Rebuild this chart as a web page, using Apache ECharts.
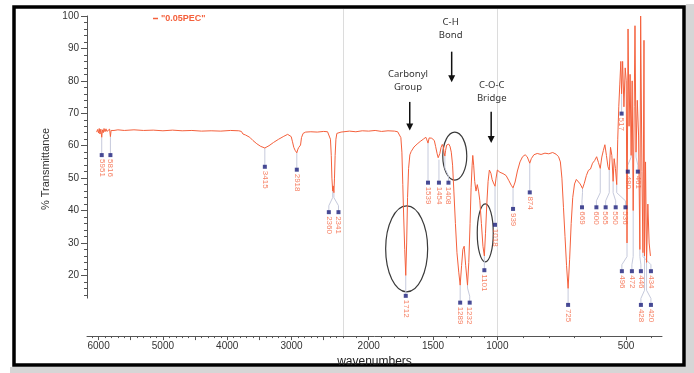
<!DOCTYPE html>
<html>
<head>
<meta charset="utf-8">
<title>FTIR 0.05PEC</title>
<script src="https://cdn.jsdelivr.net/npm/echarts@6/dist/echarts.min.js"></script>
<style>
  html, body { margin: 0; padding: 0; background: #fff; }
  #main { width: 694px; height: 373px; }
</style>
</head>
<body>
<div id="main"></div>
<script>
// spectrum [wavenumber cm-1, % transmittance], split at the axis scale breaks
var specHigh = [[6030,64.2],[6015,65.0],[6000,63.9],[5990,65.3],[5978,63.6],[5965,65.1],[5951,62.6],[5940,64.9],[5928,64.0],[5915,65.3],[5900,64.3],[5885,65.2],[5870,64.4],[5855,65.0],[5840,64.5],[5828,65.1],[5816,62.8],[5805,64.7],[5790,65.1],[5760,64.7],[5700,64.9],[5600,64.7],[5450,64.9],[5300,64.7],[5150,64.8],[5000,64.6],[4850,64.8],[4700,64.6],[4550,64.7],[4400,64.5],[4250,64.6],[4100,64.5],[3950,64.7],[3820,64.6],[3780,64.4],[3755,63.6],[3735,64.1],[3715,63.3],[3690,63.4],[3650,62.6],[3600,61.6],[3540,60.6],[3480,59.8],[3415,59.3],[3350,60.0],[3280,61.0],[3200,62.0],[3120,62.9],[3060,63.5],[3030,63.6],[3005,62.8],[2985,61.2],[2965,59.5],[2945,58.6],[2930,58.9],[2918,57.8],[2905,58.7],[2890,59.4],[2875,59.0],[2860,60.2],[2845,62.5],[2820,63.8],[2780,64.2],[2700,64.3],[2600,64.2],[2500,64.4],[2440,64.3],[2410,63.9],[2395,62.0],[2382,57.0],[2372,50.0],[2360,46.0],[2352,47.6],[2341,45.5],[2332,50.0],[2322,57.0],[2310,62.0],[2295,63.8],[2270,64.3],[2230,64.2],[2200,64.4]];
var specMid = [[2150,64.5],[2100,64.3],[2050,64.6],[2000,64.5],[1950,64.7],[1900,64.4],[1850,64.6],[1800,64.5],[1775,64.3],[1760,63.8],[1750,62.5],[1742,58],[1735,48],[1728,38],[1720,28],[1712,20.0],[1705,30],[1698,44],[1690,53],[1680,57.2],[1670,58.2],[1660,58.6],[1648,59.6],[1636,59.2],[1624,60.5],[1612,60.2],[1600,61.3],[1588,61.0],[1576,62.0],[1566,61.6],[1556,62.6],[1548,61.8],[1539,60.8],[1530,62.4],[1520,62.9],[1510,62.3],[1500,62.8],[1490,61.6],[1480,59.8],[1468,57.5],[1460,56.3],[1454,55.7],[1447,57.6],[1438,59.4],[1428,60.4],[1420,59.6],[1414,57.8],[1408,56.8],[1402,58.6],[1394,60.2],[1386,59.7],[1378,60.5],[1368,59.8],[1358,58.0],[1348,54],[1338,46],[1326,36],[1314,27],[1300,21],[1289,17.0],[1278,23],[1268,28],[1258,29],[1246,23],[1232,17.0],[1222,24],[1212,36],[1204,47],[1196,54],[1191,57.0],[1184,54],[1176,49],[1166,46],[1156,48],[1146,46],[1136,43],[1124,36],[1112,29],[1101,26.0],[1092,33],[1082,42],[1072,49],[1062,52.5],[1050,51.5],[1040,49.5],[1030,48.5],[1018,47.5],[1010,50],[1000,52.5]];
var specLow = [[990,51.8],[978,51.4],[966,50.8],[955,49.2],[946,47.8],[939,47.0],[931,48.8],[922,52.2],[912,55.0],[902,56.6],[892,57.2],[884,56.6],[879,55.6],[874,54.6],[868,56.0],[858,57.2],[845,57.6],[830,57.3],[815,57.7],[800,57.5],[785,57.9],[772,57.4],[762,56.6],[755,55.0],[749,50],[743,41],[737,32],[731,23],[725,16.0],[719,25],[713,36],[707,44],[700,48.2],[693,49.6],[686,49.0],[678,48.2],[669,46.8],[662,48.4],[654,50.8],[646,52.4],[638,52.8],[630,54.6],[622,55.4],[614,56.6],[607,54.8],[600,53.0],[594,56.5],[588,58.5],[582,60.3],[576,57],[570,53.5],[565,52.5],[560,59.5],[555,57],[550,49.0],[546,56],[541,53],[536,48.0],[532,62],[528,72],[524,79],[520,86],[517,76],[513,86],[508,72],[503,84],[499,80],[496,30],[492,96],[488,66],[484,82],[480,57],[476,80],[472,40],[468,72],[465,97],[461,58],[456,74],[451,63],[446,28],[443,100],[438,52],[434,27],[430,92.5],[428,26],[424,55],[420,24],[415,42],[410,30],[405,26]];

// labelled peaks: where the peak is, where its marker sits, marker level
var peakWn      = [5951,5816,3415,2918,2360,2341,1712,1539,1454,1408,1289,1232,1101,1018,939,874,725,669,600,565,550,536,517,480,461,496,472,446,434,428,420];
var peakLabelWn = [5951,5816,3415,2918,2420,2270,1712,1539,1454,1380,1289,1215,1101,1018,939,874,725,671,615,579,540,502,517,493,454,516,477,442,403,442,403];
var peakLabelT  = [57.1,57.1,53.5,52.6,39.5,39.5,13.7,48.6,48.6,48.6,11.6,11.6,21.6,35.6,40.5,45.6,10.9,41.0,41.0,41.0,41.0,41.0,69.9,52.0,52.0,21.3,21.3,21.3,21.3,10.9,10.9];

// axis ticks
var xLabels = [6000,5000,4000,3000,2000,1500,1000,500];
var xMajor = [6000,5500,5000,4500,4000,3500,3000,2500,2000,1500,1000,500];
var xMinor = [6100,5900,5800,5700,5600,5400,5300,5200,5100,4900,4800,4700,4600,4400,4300,4200,4100,3900,3800,3700,3600,3400,3300,3200,3100,2900,2800,2700,2600,2400,2300,2200,2100,1900,1800,1700,1600,1400,1300,1200,1100,900,800,700,600,400];
var yLabels = [20,30,40,50,60,70,80,90,100];
var yMinor = [14,16,18,22,24,26,28,32,34,36,38,42,44,46,48,52,54,56,58,62,64,66,68,72,74,76,78,82,84,86,88,92,94,96,98];

// annotations
var noteText = ['Carbonyl\nGroup', 'C-H\nBond', 'C-O-C\nBridge'];
var noteTextAt = [[1695,80.1],[1363,95.9],[1044,76.6]];
var noteArrowFrom = [[1681,73.5],[1355,89.0],[1048,70.5]];
var noteArrowTo = [[1681,64.7],[1355,79.6],[1048,60.8]];
var circleAt = [[1705,28.2],[1331,56.8],[1094,33.1]];
var circleR = [[21,43],[12,24],[8,29]];

// axis has 3 scales: 6180-2200 x1, 2200-1000 x2, 1000-360 x4
function toT(w) {
	if (w >= 2200) return 6180 - w;
	if (w >= 1000) return 3980 + 2 * (2200 - w);
	return 6380 + 4 * (1000 - w);
}
function fromT(t) {
	if (t <= 3980) return 6180 - t;
	if (t <= 6380) return 2200 - (t - 3980) / 2;
	return 1000 - (t - 6380) / 4;
}

var spectrum = specHigh.concat(specMid, specLow);
var lineData = spectrum.map(function (p) { return [toT(p[0]), p[1]]; });

function curveAt(w) {
	for (var i = 0; i < spectrum.length; i++) {
		if (spectrum[i][0] === w) return spectrum[i][1];
	}
	return null;
}

var markerData = [];
var leaderData = [];
for (var i = 0; i < peakWn.length; i++) {
	var w = peakWn[i], lw = peakLabelWn[i], lt = peakLabelT[i];
	markerData.push({ name: String(w), value: [toT(lw), lt] });
	var c = curveAt(w);
	var pts;
	if (lw === w) {
		pts = [[toT(w), c], [toT(w), lt]];
	} else {
		pts = [[toT(w), c], [toT(w), lt + 4.5], [toT(lw), lt + 2], [toT(lw), lt]];
	}
	leaderData.push({ coords: pts });
}

var red = '#f4603c';
var axisColor = '#555';

var chart = echarts.init(document.getElementById('main'));
chart.setOption({
	animation: false,
	backgroundColor: '#fff',
	textStyle: { fontFamily: 'Liberation Sans, Arial, sans-serif' },
	grid: { left: 87, right: 32, top: 16, bottom: 71 },
	legend: {
		data: ['"0.05PEC"'],
		left: 148, top: 9,
		icon: 'rect', itemWidth: 5, itemHeight: 1.5, itemGap: 4,
		textStyle: { color: red, fontSize: 9, fontWeight: 'bold', padding: [0, 0, 0, -2] }
	},
	xAxis: [{
		type: 'value', min: 0, max: toT(360), position: 'bottom', offset: 38,
		axisLine: { lineStyle: { color: axisColor, width: 1 } },
		axisTick: { customValues: xMajor.map(toT), length: 4, lineStyle: { color: axisColor } },
		axisLabel: {
			customValues: xLabels.map(toT), color: '#333', fontSize: 10, margin: 5,
			formatter: function (v) { return Math.round(fromT(v)); }
		},
		splitLine: { show: false },
		name: 'wavenumbers', nameLocation: 'middle', nameGap: 14,
		nameTextStyle: { fontSize: 12, color: '#222' }
	}, {
		// minor ticks
		type: 'value', min: 0, max: toT(360), position: 'bottom', offset: 38,
		axisLine: { show: false },
		axisTick: { customValues: xMinor.map(toT), length: 2, lineStyle: { color: axisColor } },
		axisLabel: { show: false },
		splitLine: { show: false }
	}],
	yAxis: [{
		type: 'value', min: 13, max: 100, position: 'left',
		axisLine: { show: true, lineStyle: { color: axisColor, width: 1 } },
		axisTick: { show: true, customValues: yLabels, length: 6, lineStyle: { color: axisColor } },
		axisLabel: { customValues: yLabels, color: '#333', fontSize: 10, margin: 8 },
		splitLine: { show: false },
		name: '% Transmittance', nameLocation: 'middle', nameGap: 33, nameRotate: 90,
		nameTextStyle: { fontSize: 11, color: '#333', padding: [0, 24, 0, 0] }
	}, {
		type: 'value', min: 13, max: 100, position: 'left',
		axisLine: { show: false },
		axisTick: { show: true, customValues: yMinor, length: 3, lineStyle: { color: axisColor } },
		axisLabel: { show: false },
		splitLine: { show: false }
	}],
	series: [{
		name: '"0.05PEC"',
		type: 'line',
		data: lineData,
		symbol: 'none',
		lineStyle: { color: red, width: 1 },
		itemStyle: { color: red },
		z: 3
	}, {
		name: 'leaders',
		type: 'lines',
		coordinateSystem: 'cartesian2d',
		polyline: true,
		clip: false,
		silent: true,
		data: leaderData,
		lineStyle: { color: '#c6cadc', width: 1, opacity: 1 },
		z: 2
	}, {
		name: 'peaks',
		type: 'scatter',
		clip: false,
		silent: true,
		data: markerData,
		symbol: 'rect',
		symbolSize: 4,
		itemStyle: { color: '#1b1f7c' },
		label: {
			show: true, position: 'bottom', distance: 2, rotate: -90,
			align: 'left', verticalAlign: 'middle',
			formatter: '{b}', color: red, fontSize: 8
		},
		z: 4
	}]
});

// frame, scale breaks, annotations
function px(w, t) { return chart.convertToPixel({ seriesIndex: 0 }, [toT(w), t]); }
var g = [];
g.push({ type: 'rect', shape: { x: 686, y: 4, width: 8, height: 369 }, style: { fill: '#d6d6d6' }, silent: true });
g.push({ type: 'rect', shape: { x: 10, y: 367, width: 684, height: 6 }, style: { fill: '#d6d6d6' }, silent: true });
g.push({ type: 'rect', shape: { x: 14, y: 7, width: 670, height: 358 }, style: { fill: 'none', stroke: '#000', lineWidth: 3.5 }, silent: true });
[2200, 1000].forEach(function (w) {
	var x = Math.round(px(w, 50)[0]) + 0.5;
	g.push({ type: 'line', shape: { x1: x, y1: 9, x2: x, y2: 339 }, style: { stroke: '#dcdcdc', lineWidth: 1 }, z: -1, silent: true });
});
for (var k = 0; k < circleAt.length; k++) {
	var c0 = px(circleAt[k][0], circleAt[k][1]);
	g.push({ type: 'ellipse', shape: { cx: c0[0], cy: c0[1], rx: circleR[k][0], ry: circleR[k][1] }, style: { fill: 'none', stroke: '#3a3a3a', lineWidth: 1.2 }, silent: true });
}
for (var n = 0; n < noteText.length; n++) {
	var a = px(noteArrowFrom[n][0], noteArrowFrom[n][1]);
	var b = px(noteArrowTo[n][0], noteArrowTo[n][1]);
	g.push({ type: 'line', shape: { x1: a[0], y1: a[1], x2: b[0], y2: b[1] - 6 }, style: { stroke: '#111', lineWidth: 1.5 }, silent: true });
	g.push({ type: 'polygon', shape: { points: [[b[0] - 3.5, b[1] - 7], [b[0] + 3.5, b[1] - 7], [b[0], b[1]]] }, style: { fill: '#111' }, silent: true });
	var tp = px(noteTextAt[n][0], noteTextAt[n][1]);
	g.push({ type: 'text', x: tp[0], y: tp[1], style: { text: noteText[n], align: 'center', verticalAlign: 'middle', fill: '#333', fontSize: 9.5, lineHeight: 13, fontFamily: 'Noto Sans, sans-serif' }, silent: true });
}
chart.setOption({ graphic: g });
</script>
</body>
</html>
